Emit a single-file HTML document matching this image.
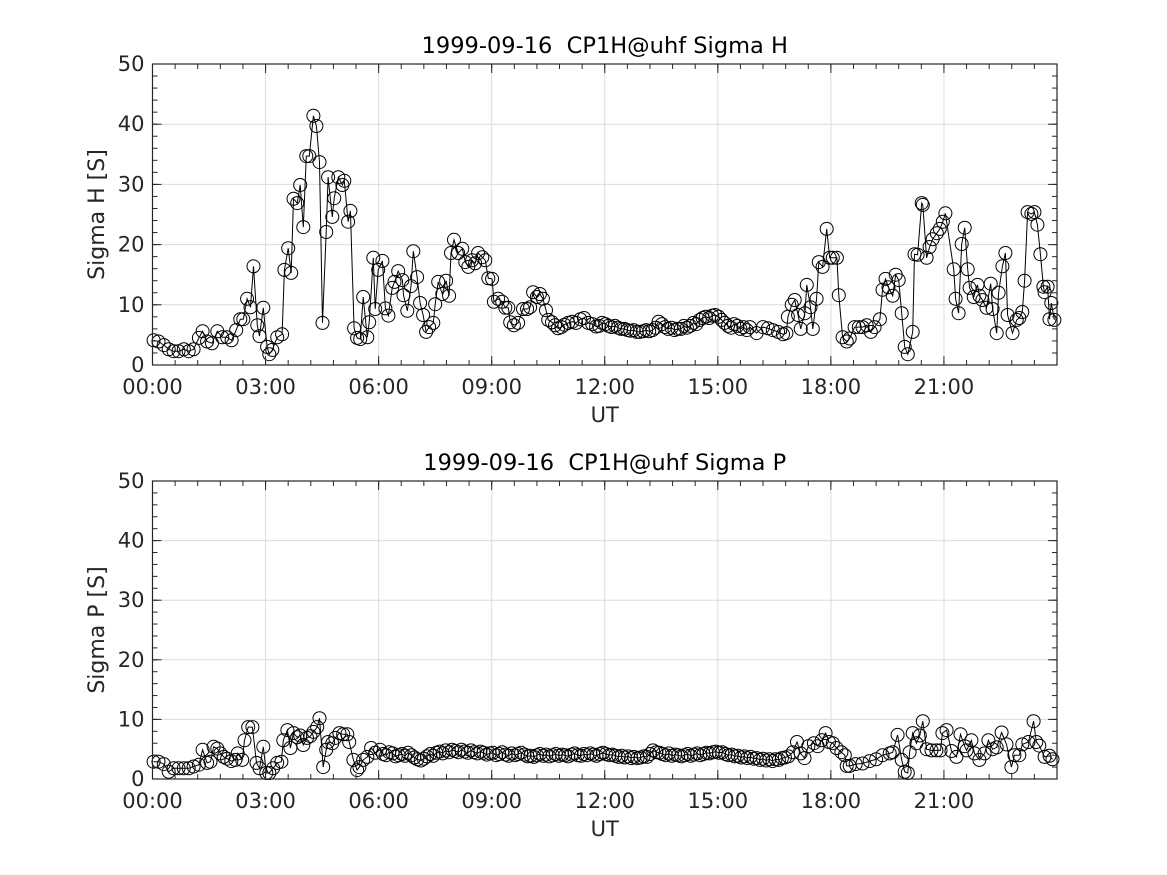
<!DOCTYPE html>
<html><head><meta charset="utf-8"><style>
html,body{margin:0;padding:0;background:#fff;}
svg{display:block;font-family:"DejaVu Sans","Liberation Sans",sans-serif;}
text{white-space:pre;}
</style></head><body>
<svg id="fig" width="1167" height="875" viewBox="0 0 1167 875"></svg>
<script>
const sigmaHTimes=[0.03,0.16,0.3,0.43,0.56,0.69,0.83,0.96,1.09,1.23,1.33,1.45,1.58,1.72,1.85,1.98,2.1,2.22,2.33,2.41,2.51,2.6,2.68,2.78,2.84,2.94,3.04,3.1,3.18,3.31,3.44,3.5,3.6,3.68,3.74,3.84,3.92,4.0,4.08,4.16,4.27,4.35,4.43,4.51,4.61,4.66,4.77,4.82,4.93,5.04,5.09,5.19,5.25,5.35,5.43,5.51,5.59,5.7,5.75,5.86,5.91,5.99,6.1,6.18,6.26,6.36,6.42,6.52,6.63,6.66,6.76,6.86,6.92,7.02,7.1,7.18,7.26,7.34,7.45,7.5,7.58,7.69,7.79,7.87,7.92,8.0,8.11,8.22,8.3,8.38,8.48,8.56,8.64,8.75,8.83,8.91,9.01,9.06,9.17,9.28,9.36,9.44,9.49,9.59,9.7,9.83,9.94,10.02,10.1,10.2,10.28,10.36,10.44,10.5,10.6,10.68,10.76,10.85,10.93,11.03,11.14,11.24,11.35,11.45,11.56,11.67,11.77,11.85,11.93,12.02,12.1,12.18,12.27,12.35,12.43,12.52,12.6,12.68,12.77,12.85,12.93,13.02,13.1,13.18,13.27,13.35,13.43,13.52,13.6,13.68,13.77,13.85,13.93,14.02,14.1,14.18,14.27,14.35,14.43,14.52,14.6,14.68,14.77,14.85,14.93,15.02,15.1,15.18,15.27,15.35,15.43,15.52,15.6,15.68,15.77,15.85,16.03,16.2,16.33,16.46,16.6,16.73,16.82,16.86,16.96,17.04,17.13,17.2,17.31,17.36,17.46,17.52,17.62,17.68,17.78,17.89,17.97,18.05,18.16,18.21,18.31,18.42,18.5,18.63,18.74,18.84,18.95,19.06,19.16,19.3,19.37,19.45,19.53,19.64,19.72,19.8,19.88,19.96,20.04,20.17,20.22,20.3,20.41,20.44,20.54,20.62,20.7,20.81,20.89,20.97,21.04,21.26,21.31,21.39,21.47,21.55,21.63,21.68,21.79,21.89,21.94,22.02,22.13,22.24,22.29,22.4,22.45,22.55,22.63,22.69,22.82,22.93,23.0,23.08,23.14,23.22,23.32,23.4,23.48,23.56,23.64,23.67,23.75,23.8,23.85,23.93];
const sigmaHValues=[4.1,3.9,3.3,2.6,2.3,2.3,2.6,2.3,2.6,4.5,5.6,3.9,3.6,5.6,4.6,4.6,4.1,5.8,7.6,7.6,11,9.6,16.4,6.6,4.8,9.5,3.0,1.8,2.5,4.6,5.1,15.8,19.4,15.3,27.6,26.9,29.9,22.9,34.7,34.7,41.4,39.7,33.7,7.0,22.1,31.2,24.6,27.7,31.2,29.9,30.6,23.8,25.6,6.1,4.5,4.3,11.3,4.6,7.1,17.8,9.3,15.8,17.3,9.4,8.2,12.8,13.8,15.6,14.1,11.6,9.0,13.1,18.9,14.6,10.3,8.3,5.5,6.3,7.0,10.1,13.8,11.8,14.0,11.5,18.6,20.8,18.6,19.3,17.1,16.3,17.4,16.9,18.6,17.9,17.4,14.4,14.3,10.5,11,10.5,9.5,9.5,7.1,6.6,7.0,9.3,9.3,9.6,12.1,11.3,11.8,11,9.1,7.5,7.1,6.6,6.1,6.3,6.7,7.0,7.2,7.0,7.6,7.8,7.0,6.8,6.4,6.5,7.0,6.8,6.5,6.3,6.5,6.2,6.0,6.0,5.8,5.7,5.8,5.5,5.5,5.6,5.8,5.6,5.8,6.2,7.2,6.8,6.3,6.0,6.2,5.8,6.0,6.0,6.5,6.2,6.5,7.0,6.8,7.5,7.8,8.0,7.8,8.2,8.3,8.0,7.5,7.0,6.5,6.2,6.8,6.5,6.0,6.3,5.8,6.3,5.3,6.3,6.1,5.8,5.5,5.1,5.3,8.0,10.0,10.8,8.3,6.0,8.6,13.3,9.6,6.0,11,17.1,16.3,22.6,17.8,17.8,17.8,11.6,4.6,3.9,4.4,6.3,6.3,6.3,6.6,5.5,6.3,7.6,12.5,14.3,12.9,11.5,15,14.1,8.6,3.0,1.8,5.5,18.4,18.3,26.9,26.6,17.8,19.6,20.9,21.9,22.6,23.8,25.2,15.9,11,8.6,20.1,22.8,15.9,12.8,11.3,13.3,11.5,10.8,9.5,13.5,9.3,5.3,12,16.4,18.6,8.3,5.3,7.5,7.8,8.8,14,25.4,25.1,25.4,23.3,18.4,13,12.1,13,7.6,10.3,7.5];

const sigmaPTimes=[0.03,0.16,0.3,0.43,0.56,0.69,0.83,0.96,1.09,1.23,1.33,1.45,1.54,1.62,1.72,1.8,1.89,1.98,2.09,2.2,2.26,2.38,2.44,2.54,2.65,2.76,2.84,2.94,3.02,3.1,3.2,3.31,3.42,3.47,3.58,3.66,3.74,3.84,3.92,4.0,4.1,4.19,4.27,4.37,4.43,4.53,4.61,4.66,4.77,4.85,4.96,5.06,5.17,5.22,5.33,5.43,5.49,5.59,5.7,5.8,5.91,6.04,
6.12,6.2,6.28,6.37,6.45,6.53,6.62,6.7,6.78,6.87,6.95,
7.03,7.12,7.2,7.28,7.37,7.45,7.53,7.62,7.7,7.78,7.87,7.95,
8.03,8.12,8.2,8.28,8.37,8.45,8.53,8.62,8.7,8.78,8.87,8.95,
9.03,9.12,9.2,9.28,9.37,9.45,9.53,9.62,9.7,9.78,9.87,9.95,
10.03,10.12,10.2,10.28,10.37,10.45,10.53,10.62,10.7,10.78,10.87,10.95,
11.03,11.12,11.2,11.28,11.37,11.45,11.53,11.62,11.7,11.78,11.87,11.95,
12.03,12.12,12.2,12.28,12.37,12.45,12.53,12.62,12.7,12.78,12.87,12.95,
13.03,13.12,13.2,13.28,13.37,13.45,13.53,13.62,13.7,13.78,13.87,13.95,
14.03,14.12,14.2,14.28,14.37,14.45,14.53,14.62,14.7,14.78,14.87,14.95,
15.03,15.12,15.2,15.28,15.37,15.45,15.53,15.62,15.7,15.78,15.87,15.95,
16.03,16.12,16.2,16.28,16.37,16.45,16.53,16.62,16.7,16.78,16.87,
16.99,17.1,17.2,17.3,17.4,17.55,17.65,17.76,17.86,17.95,18.05,18.15,18.28,18.37,18.42,18.5,18.66,18.84,19.03,19.2,19.37,19.56,19.64,19.77,19.88,19.96,20.04,20.09,20.17,20.27,20.36,20.44,20.54,20.67,20.8,20.91,20.96,21.07,21.2,21.33,21.44,21.55,21.6,21.73,21.81,21.94,22.08,22.18,22.29,22.4,22.53,22.66,22.79,22.87,23.0,23.08,23.24,23.38,23.45,23.53,23.67,23.8,23.88];
const sigmaPValues=[2.9,2.9,2.5,1.2,1.8,1.8,1.8,1.8,2.1,2.4,4.9,2.7,2.9,5.4,5.1,4.3,3.7,3.4,3.0,3.2,4.3,3.2,6.5,8.7,8.7,2.7,1.8,5.4,1.0,1.0,1.8,2.7,2.9,6.5,8.2,5.2,7.7,7.0,7.3,5.7,6.9,7.2,7.9,8.7,10.2,2.0,4.9,6.2,6.0,6.9,7.7,7.5,7.5,6.2,3.2,1.5,2.0,3.2,3.7,5.2,4.4,4.9,
4.2,4.0,4.5,4.3,3.8,4.0,4.2,3.9,4.4,4.0,3.6,
3.3,3.1,3.4,3.8,4.2,3.9,4.4,4.6,4.3,4.8,4.5,4.9,
4.7,4.5,4.9,4.6,4.4,4.8,4.5,4.3,4.6,4.4,4.1,4.3,
4.4,4.0,4.2,4.5,4.1,3.9,4.3,4.0,4.2,4.4,4.1,3.8,
3.9,3.7,4.0,4.2,3.9,4.1,3.8,4.0,4.2,3.9,4.1,4.0,
3.8,4.1,4.3,4.0,3.9,4.2,4.0,4.3,4.1,3.9,4.2,4.4,
4.2,4.0,4.1,3.9,3.7,3.9,3.6,3.8,3.5,3.7,3.5,3.6,
3.8,3.7,4.2,4.8,4.5,4.4,4.2,4.0,4.3,3.9,4.1,4.0,
3.8,4.0,4.2,3.9,4.1,4.3,4.0,4.2,4.4,4.3,4.5,4.6,
4.4,4.5,4.2,4.0,4.1,3.8,3.9,3.6,3.8,3.5,3.7,3.4,
3.5,3.2,3.4,3.1,3.3,3.0,3.3,3.2,3.5,3.6,3.8,
4.5,6.2,4.3,3.5,5.5,6.0,5.5,6.5,7.7,6.2,6.0,5.2,4.5,4.0,2.2,2.2,2.5,2.6,3.0,3.3,4.0,4.3,4.5,7.4,3.2,1.2,1.0,4.5,7.7,6.0,7.3,9.7,5.0,4.8,4.8,4.8,7.7,8.2,4.7,3.7,7.5,5.5,4.8,6.5,4.3,3.2,4.3,6.5,5.0,5.3,7.8,5.8,2.0,4.0,4.0,5.8,6.2,9.7,6.2,5.6,3.7,3.9,3.3];

const xTickLabels=["00:00","03:00","06:00","09:00","12:00","15:00","18:00","21:00"];
const yTickLabels=["0","10","20","30","40","50"];

const NS="http://www.w3.org/2000/svg";
const svg=document.getElementById('fig');
function mk(tag,attrs,parent){const e=document.createElementNS(NS,tag);for(const k in attrs)e.setAttribute(k,attrs[k]);(parent||svg).appendChild(e);return e;}

function drawPanel(box,title,ylabel,times,values,prefix){
  const g=mk('g',{});
  
  
  const L=box.l,R=box.r,T=box.t,B=box.b;
  const xs=h=>L+(h/24)*(R-L);
  const ys=v=>B-(v/50)*(B-T);
  for(let i=1;i<xTickLabels.length;i++){const x=xs(i*3);
    const gl=mk('line',{x1:x,x2:x,y1:T,y2:B,stroke:'#dcdcdc','stroke-width':1},g);
    
    }
  for(let i=1;i<yTickLabels.length-1;i++){const y=ys(+yTickLabels[i]);
    const gl=mk('line',{x1:L,x2:R,y1:y,y2:y,stroke:'#dcdcdc','stroke-width':1},g);
    
    }
  let d='';
  for(let i=0;i<times.length;i++){d+=(i?'L':'M')+xs(times[i]).toFixed(1)+' '+ys(values[i]).toFixed(1);}
  const line=mk('path',{d:d,fill:'none',stroke:'#000','stroke-width':1},g);
  
  
  for(let i=0;i<times.length;i++){
    const c=mk('circle',{cx:xs(times[i]).toFixed(1),cy:ys(values[i]).toFixed(1),r:6.5,fill:'none',stroke:'#000','stroke-width':1},g);
    
    
  }
  const bx=mk('rect',{x:L,y:T,width:R-L,height:B-T,fill:'none',stroke:'#262626','stroke-width':1.2},g);
  
  
  for(let m=0;m<=24.001;m+=0.6){const x=xs(m);
    mk('line',{x1:x,x2:x,y1:B,y2:B-5,stroke:'#262626'},g);mk('line',{x1:x,x2:x,y1:T,y2:T+5,stroke:'#262626'},g);}
  for(let i=0;i<xTickLabels.length;i++){const x=xs(i*3);
    mk('line',{x1:x,x2:x,y1:B,y2:B-9,stroke:'#262626'},g);mk('line',{x1:x,x2:x,y1:T,y2:T+9,stroke:'#262626'},g);
    const t=mk('text',{x:x,y:B+29,'text-anchor':'middle','font-size':21,fill:'#262626'},g);t.textContent=xTickLabels[i];
    
    }
  for(let v=0;v<=50;v+=2){const y=ys(v);
    mk('line',{x1:L,x2:L+5,y1:y,y2:y,stroke:'#262626'},g);mk('line',{x1:R,x2:R-5,y1:y,y2:y,stroke:'#262626'},g);}
  for(let i=0;i<yTickLabels.length;i++){const y=ys(+yTickLabels[i]);
    mk('line',{x1:L,x2:L+9,y1:y,y2:y,stroke:'#262626'},g);mk('line',{x1:R,x2:R-9,y1:y,y2:y,stroke:'#262626'},g);
    const t=mk('text',{x:L-8,y:y+7,'text-anchor':'end','font-size':21,fill:'#262626'},g);t.textContent=yTickLabels[i];
    
    }
  const tt=mk('text',{x:(L+R)/2,y:T-11,'text-anchor':'middle','font-size':22.5,fill:'#000'},g);tt.textContent=title;
  
  
  const xl=mk('text',{x:(L+R)/2,y:B+57,'text-anchor':'middle','font-size':21,fill:'#262626'},g);xl.textContent='UT';
  
  
  const yl=mk('text',{x:0,y:0,'text-anchor':'middle','font-size':22,fill:'#262626',transform:'translate(104,'+((T+B)/2)+') rotate(-90)'},g);yl.textContent=ylabel;
  
  
}
drawPanel({l:152.5,r:1057,t:64,b:365},'1999-09-16  CP1H@uhf Sigma H','Sigma H [S]',sigmaHTimes,sigmaHValues,'sigma-h');
drawPanel({l:152.5,r:1057,t:481,b:779},'1999-09-16  CP1H@uhf Sigma P','Sigma P [S]',sigmaPTimes,sigmaPValues,'sigma-p');
</script>
</body></html>
